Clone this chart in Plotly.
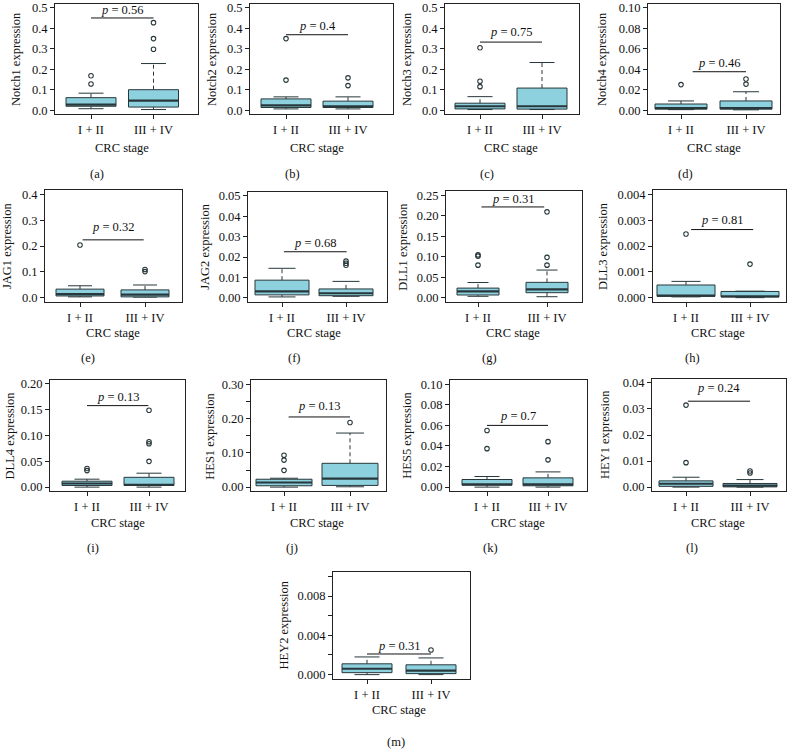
import plotly.graph_objects as go

# ---------------- data ----------------
CATEGORIES = ["I + II", "III + IV"]
GENES = ["Notch1", "Notch2", "Notch3", "Notch4", "JAG1", "JAG2", "DLL1",
         "DLL3", "DLL4", "HES1", "HES5", "HEY1", "HEY2"]
PANEL_TAGS = ["(a)", "(b)", "(c)", "(d)", "(e)", "(f)", "(g)", "(h)", "(i)",
              "(j)", "(k)", "(l)", "(m)"]
P_VALUES = ["0.56", "0.4", "0.75", "0.46", "0.32", "0.68", "0.31", "0.81",
            "0.13", "0.13", "0.7", "0.24", "0.31"]

# stage I + II box statistics
LO_12 = [0.007, 0.006, 0.003, 0.0005, 0.003, 0.0005, 0.004, 0.00003, 0.0, 0.0, 0.0, 0.0, 0.0]
Q1_12 = [0.019, 0.013, 0.006, 0.001, 0.0065, 0.0015, 0.0072, 0.00005, 0.0032, 0.004, 0.0019, 0.0003, 0.0002]
MED_12 = [0.027, 0.023, 0.019, 0.002, 0.014, 0.0032, 0.016, 0.00008, 0.007, 0.0135, 0.0026, 0.0013, 0.0006]
Q3_12 = [0.061, 0.055, 0.034, 0.006, 0.033, 0.0087, 0.024, 0.00049, 0.0115, 0.023, 0.0074, 0.0024, 0.0011]
HI_12 = [0.083, 0.065, 0.066, 0.009, 0.046, 0.0145, 0.0376, 0.00063, 0.0154, 0.026, 0.0103, 0.0038, 0.0018]
OUT_12 = [[0.128, 0.168], [0.147, 0.350], [0.115, 0.141, 0.305], [0.025], [0.204], [],
          [0.080, 0.102, 0.105], [0.00247], [0.032, 0.036], [0.049, 0.079, 0.093],
          [0.0374, 0.055], [0.0094, 0.0315], []]

# stage III + IV box statistics
LO_34 = [0.003, 0.006, 0.003, 0.0003, 0.002, 0.0008, 0.003, 0.0, 0.0, 0.001, 0.0, 0.0, 0.0]
Q1_34 = [0.015, 0.013, 0.005, 0.001, 0.003, 0.0011, 0.0128, 0.00003, 0.0032, 0.005, 0.0013, 0.0001, 0.0001]
MED_34 = [0.047, 0.019, 0.019, 0.002, 0.012, 0.0023, 0.0208, 0.00005, 0.0045, 0.025, 0.0026, 0.0006, 0.0004]
Q3_34 = [0.100, 0.044, 0.108, 0.009, 0.030, 0.0044, 0.038, 0.00024, 0.019, 0.0696, 0.009, 0.0014, 0.0010]
HI_34 = [0.228, 0.065, 0.233, 0.018, 0.049, 0.0081, 0.068, 0.00025, 0.027, 0.158, 0.0148, 0.0029, 0.0017]
OUT_34 = [[0.298, 0.350, 0.428], [0.120, 0.158], [], [0.0255, 0.0305], [0.101, 0.109],
          [0.016, 0.017, 0.018], [0.080, 0.099, 0.210], [0.0013],
          [0.050, 0.084, 0.088, 0.149], [0.189], [0.0265, 0.0442], [0.0054, 0.0062], [0.0025]]

# y axis tick scheme
Y_MAX = [0.5, 0.5, 0.5, 0.10, 0.4, 0.05, 0.25, 0.004, 0.20, 0.30, 0.10, 0.04, 0.010]
Y_STEP = [0.1, 0.1, 0.1, 0.02, 0.1, 0.01, 0.05, 0.001, 0.05, 0.05, 0.02, 0.01, 0.002]
Y_LABEL_EVERY = [1, 1, 1, 1, 1, 1, 1, 1, 1, 2, 1, 1, 2]
Y_DEC = [1, 1, 1, 2, 1, 2, 2, 3, 2, 2, 2, 2, 3]

# p-value bracket (x in category units, y in data units)
P_X0 = [1.0, 1.0, 1.0, 1.18, 1.04, 1.03, 1.05, 1.08, 1.0, 1.07, 1.0, 1.03, 1.0]
P_X1 = [2.0, 2.0, 2.0, 2.0, 1.98, 2.01, 1.96, 2.05, 1.99, 2.0, 2.0, 2.0, 2.0]
P_LINE_Y = [0.451, 0.369, 0.333, 0.0376, 0.224, 0.0226, 0.222, 0.00264, 0.158, 0.205, 0.060, 0.033, 0.0021]
P_TEXT_Y = [0.490, 0.413, 0.382, 0.046, 0.273, 0.0267, 0.242, 0.0030, 0.174, 0.238, 0.069, 0.038, 0.0029]

# ---------------- layout (pixels) ----------------
W, H = 790, 755
PANEL_L = [55, 250, 445, 648, 45, 248, 446, 653, 50, 251, 450, 652, 333]
PANEL_R = [198, 393, 579, 780, 182, 387, 582, 786, 185, 386, 587, 786, 470]
C1_PX = [91, 286, 480, 681, 80, 282, 478, 686, 87, 284, 487, 686, 367]
C2_PX = [153.5, 348, 542, 746, 145, 346, 547, 750, 149, 350, 548, 750, 431]
HW_PX = [25, 25, 25, 26, 24, 27, 21, 29, 25, 28, 25, 27, 25]
Y0_PX = [108, 108, 108, 108, 297, 297.3, 297.3, 297, 488, 488, 488, 488, 677]
YTOP_PX = [5, 5, 5, 5, 193, 194.3, 194, 193, 384, 384.5, 384.3, 383, 578]
YTITLE_X = [16, 212, 407, 602, 7, 205, 403, 603, 10, 210, 407, 605, 284]
ROW = [0, 0, 0, 0, 1, 1, 1, 1, 2, 2, 2, 2, 3]
XTITLE_Y = [146, 333, 524, 713]
TAG_Y = [172, 358, 549, 745]
TAG_X = [97, 292, 487, 685, 88, 294, 489, 692, 93, 292, 490, 692, 396]

FILL = "#8ed1de"
EDGE = "#27373b"
FONT = "Liberation Serif"
FS = 12.5

fig = go.Figure()
annotations = []
shapes = []
layout = {}

for i, gene in enumerate(GENES):
    n = i + 1
    xa = "x" if n == 1 else f"x{n}"
    ya = "y" if n == 1 else f"y{n}"
    L, R = PANEL_L[i], PANEL_R[i]
    c1, c2 = C1_PX[i], C2_PX[i]
    u = c2 - c1
    xmin = 1 - (c1 - L) / u
    xmax = 2 + (R - c2) / u
    bw = HW_PX[i] / u
    cw = bw * 0.5
    ymax = Y_MAX[i]
    ext = 0.04 * ymax
    ppu = (Y0_PX[i] - YTOP_PX[i]) / ymax
    T = YTOP_PX[i] - ext * ppu
    B = Y0_PX[i] + ext * ppu

    groups = [
        (1, LO_12[i], Q1_12[i], MED_12[i], Q3_12[i], HI_12[i], OUT_12[i]),
        (2, LO_34[i], Q1_34[i], MED_34[i], Q3_34[i], HI_34[i], OUT_34[i]),
    ]
    bx, by, mx, my, wx, wy, sx, sy, ox, oy = [], [], [], [], [], [], [], [], [], []
    for pos, lo, q1, med, q3, hi, outs in groups:
        bx += [pos - bw, pos + bw, pos + bw, pos - bw, pos - bw, None]
        by += [q1, q1, q3, q3, q1, None]
        mx += [pos - bw, pos + bw, None]
        my += [med, med, None]
        wx += [pos, pos, None, pos, pos, None]
        wy += [q3, hi, None, q1, lo, None]
        sx += [pos - cw, pos + cw, None, pos - cw, pos + cw, None]
        sy += [hi, hi, None, lo, lo, None]
        ox += [pos] * len(outs)
        oy += list(outs)

    common = dict(xaxis=xa, yaxis=ya, showlegend=False, hoverinfo="skip")
    fig.add_trace(go.Scatter(x=wx, y=wy, mode="lines",
                             line=dict(color=EDGE, width=1, dash="4px,3px"), **common))
    fig.add_trace(go.Scatter(x=sx, y=sy, mode="lines",
                             line=dict(color=EDGE, width=1), **common))
    fig.add_trace(go.Scatter(x=bx, y=by, mode="lines", fill="toself", fillcolor=FILL,
                             line=dict(color=EDGE, width=1), **common))
    fig.add_trace(go.Scatter(x=mx, y=my, mode="lines",
                             line=dict(color=EDGE, width=2.2), **common))
    fig.add_trace(go.Scatter(x=ox, y=oy, mode="markers",
                             marker=dict(symbol="circle-open", size=4.5,
                                         color=EDGE, line=dict(width=1.1)), **common))

    nt = int(round(ymax / Y_STEP[i])) + 1
    tv = [k * Y_STEP[i] for k in range(nt)]
    tt = [f"{v:.{Y_DEC[i]}f}" if k % Y_LABEL_EVERY[i] == 0 else "" for k, v in enumerate(tv)]

    axis_common = dict(showline=True, mirror=True, linecolor="#222", linewidth=1,
                       ticks="outside", ticklen=4, tickcolor="#222", tickwidth=1,
                       showgrid=False, zeroline=False,
                       tickfont=dict(family=FONT, size=FS, color="#111"))
    layout["xaxis" if n == 1 else f"xaxis{n}"] = dict(
        domain=[L / W, R / W], range=[xmin, xmax], anchor=ya,
        tickvals=[1, 2], ticktext=CATEGORIES, **axis_common)
    layout["yaxis" if n == 1 else f"yaxis{n}"] = dict(
        domain=[1 - B / H, 1 - T / H], range=[-ext, ymax + ext], anchor=xa,
        tickvals=tv, ticktext=tt, **axis_common)

    shapes.append(dict(type="line", xref=xa, yref=ya, x0=P_X0[i], x1=P_X1[i],
                       y0=P_LINE_Y[i], y1=P_LINE_Y[i], line=dict(color="#111", width=1)))
    annotations.append(dict(xref=xa, yref=ya, x=(P_X0[i] + P_X1[i]) / 2, y=P_TEXT_Y[i],
                            text=f"<i>p</i> = {P_VALUES[i]}", showarrow=False,
                            font=dict(family=FONT, size=FS, color="#111"),
                            xanchor="center", yanchor="middle"))
    annotations.append(dict(xref="paper", yref="paper", x=YTITLE_X[i] / W,
                            y=1 - ((T + B) / 2) / H, text=f"{gene} expression",
                            textangle=-90, showarrow=False,
                            font=dict(family=FONT, size=FS, color="#111"),
                            xanchor="center", yanchor="middle"))
    annotations.append(dict(xref="paper", yref="paper", x=((c1 + c2) / 2) / W,
                            y=1 - XTITLE_Y[ROW[i]] / H, text="CRC stage", showarrow=False,
                            font=dict(family=FONT, size=FS, color="#111"),
                            xanchor="center", yanchor="middle"))
    annotations.append(dict(xref="paper", yref="paper", x=TAG_X[i] / W,
                            y=1 - TAG_Y[ROW[i]] / H, text=PANEL_TAGS[i], showarrow=False,
                            font=dict(family=FONT, size=FS, color="#111"),
                            xanchor="center", yanchor="middle"))

fig.update_layout(width=W, height=H, autosize=False,
                  margin=dict(l=0, r=0, t=0, b=0),
                  paper_bgcolor="white", plot_bgcolor="white",
                  annotations=annotations, shapes=shapes, **layout)

fig.write_html("out.html",
               config={"displayModeBar": False, "staticPlot": True},
               post_script="document.body.style.margin='0px';"
                           "document.body.style.padding='0px';"
                           "document.documentElement.style.overflow='hidden';")
